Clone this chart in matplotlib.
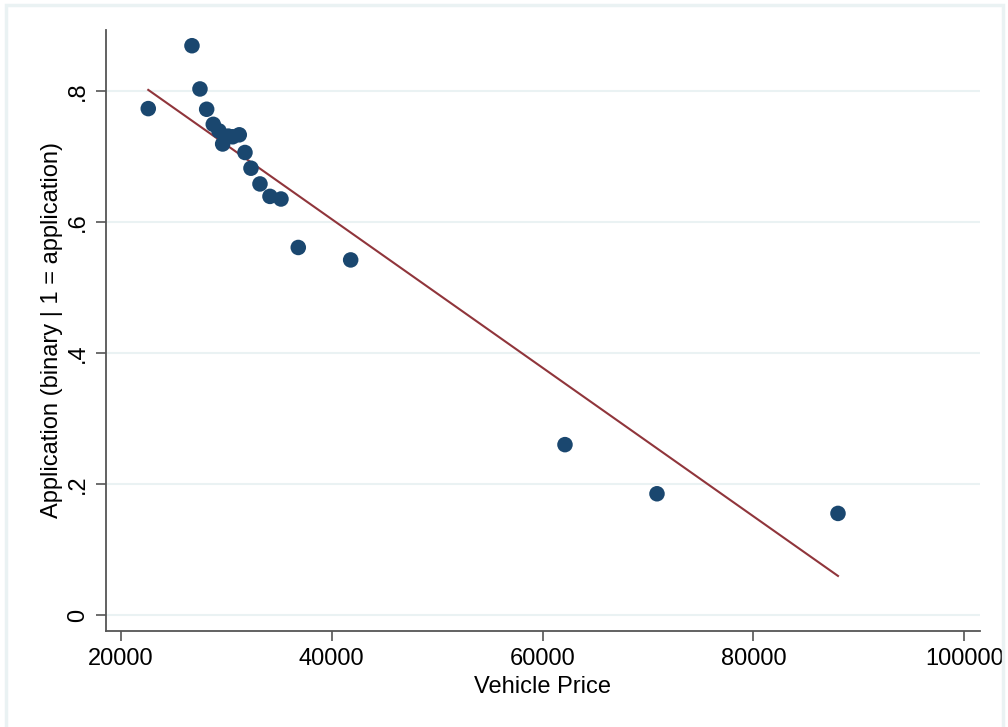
import numpy as np
import matplotlib
matplotlib.use("Agg")
import matplotlib.pyplot as plt
from matplotlib.patches import Rectangle

# vehicle price vs share of applications
price = [22590, 26736, 27495, 28131, 28757, 29298, 29649, 30180, 30598, 31224,
         31765, 32334, 33188, 34137, 35180, 36822, 41793, 62125, 70854, 88027]
application = [0.773, 0.869, 0.803, 0.772, 0.749, 0.739, 0.719, 0.731, 0.730, 0.733,
               0.706, 0.682, 0.658, 0.639, 0.635, 0.561, 0.542, 0.260, 0.185, 0.155]

# linear fit as drawn in the original (weighted fit)
fit_intercept = 1.0577
fit_slope = -1.1339e-5

x_ticks = [20000, 40000, 60000, 80000, 100000]
y_ticks = [0, 0.2, 0.4, 0.6, 0.8]
y_tick_labels = ["0", ".2", ".4", ".6", ".8"]

navy = "#1a476f"
maroon = "#90353b"
grid_col = "#eaf2f3"

plt.rcParams["font.family"] = ["Liberation Sans", "DejaVu Sans"]

fig = plt.figure(figsize=(10.08, 7.27), dpi=100)
ax = fig.add_axes([106 / 1008, 1 - 631 / 727, (980 - 106) / 1008, (631 - 30) / 727])

# outer frame like the stata graph region
fig.patches.append(Rectangle((6 / 1008, -0.1), 997 / 1008, 1.1 - 5 / 727,
                             transform=fig.transFigure, fill=False,
                             edgecolor=grid_col, linewidth=2.5))

for yt in y_ticks:
  ax.axhline(yt, color=grid_col, linewidth=1.5, zorder=0)

xs = np.array([min(price), max(price)])
ax.plot(xs, fit_intercept + fit_slope * xs, color=maroon, linewidth=1.5, zorder=2)
ax.scatter(price, application, s=125, color=navy, edgecolors="none", zorder=3)

ax.set_xlim(18580, 101500)
ax.set_ylim(-0.0245, 0.893)
ax.set_xticks(x_ticks)
ax.set_xticklabels([str(v) for v in x_ticks], fontsize=17)
ax.set_yticks(y_ticks)
ax.set_yticklabels(y_tick_labels, fontsize=17, rotation=90, va="center")

for side in ["top", "right"]:
  ax.spines[side].set_visible(False)
for side in ["left", "bottom"]:
  ax.spines[side].set_color("#555555")
  ax.spines[side].set_linewidth(1.3)
ax.tick_params(axis="both", direction="out", length=7, width=1.2, color="#555555", pad=5)

ax.set_xlabel("Vehicle Price", fontsize=17, labelpad=4.5)
ax.set_ylabel("Application (binary | 1 = application)", fontsize=17, labelpad=3)

fig.savefig("out.png", dpi=100)
